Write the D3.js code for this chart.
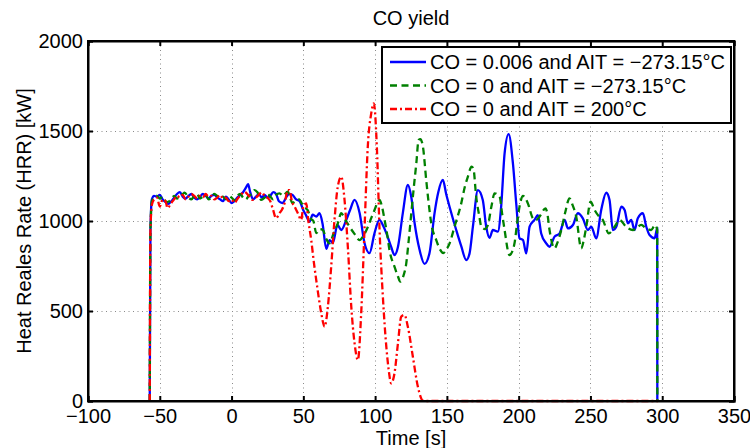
<!DOCTYPE html>
<html>
<head>
<meta charset="utf-8">
<script src="https://cdn.jsdelivr.net/npm/d3@7"></script>
<style>
    body { margin: 0; background: #fff; }
    text { font-family: "Liberation Sans", Arial, sans-serif; }
</style>
</head>
<body>
<div id="chart"></div>
<script>
// Axis ticks
let xTicks = [-100, -50, 0, 50, 100, 150, 200, 250, 300, 350];
let yTicks = [0, 500, 1000, 1500, 2000];

// CO = 0.006 and AIT = -273.15 C (blue, solid)
let blueTime = [-57, -56.5, -55.5, -54, -52, -50, -48, -46, -44, -42, -40, -38, -36, -34, -32, -30, -28, -26, -24, -22,
    -20, -18, -16, -14, -12, -10, -8, -6, -4, -2, 0, 2, 4, 6, 8, 10, 11.5, 13, 15, 17, 19, 21, 23, 25, 27, 29, 31, 33,
    35.5, 38, 40, 42.5, 45, 47.4, 50, 52, 54.3, 56.5, 59, 61.3, 63.4, 66, 68.3, 70.5, 73.8, 76.4, 79.9, 82.5, 85.7,
    89.2, 92.6, 96.1, 99.6, 103, 105.5, 107.8, 111.2, 113.5, 115.9, 119.3, 122.8, 125.2, 127.5, 131, 134.4, 137.9,
    141.4, 144, 147.2, 149.5, 151.9, 156.5, 160, 163.5, 165.8, 168.1, 171.6, 175, 177.4, 179.7, 182, 185.5, 187.8,
    190.2, 193, 196, 198.3, 200.6, 203, 205.3, 207.6, 211, 213.4, 215.7, 219.2, 221.5, 225, 228.5, 232, 234.3, 237.8,
    241.2, 244.7, 248.2, 250.6, 254, 257.5, 261, 263.3, 265.6, 268, 271.5, 273.8, 276.1, 278.4, 280.7, 283, 286.5,
    288.9, 291.2, 294.7, 296.5, 296.6];
let blueHRR = [0, 950, 1120, 1140, 1135, 1145, 1120, 1105, 1095, 1110, 1130, 1150, 1160, 1135, 1125, 1140, 1150, 1130, 1120, 1135,
    1150, 1140, 1125, 1140, 1145, 1130, 1120, 1110, 1135, 1120, 1100, 1110, 1130, 1145, 1160, 1185, 1205, 1160, 1120, 1135, 1150, 1130, 1145, 1130, 1140, 1160, 1150, 1110,
    1100, 1130, 1150, 1144, 1120, 1110, 1060, 1030, 995, 1035, 1025, 1044, 985, 845, 894, 878, 978, 950, 1006, 1060, 1117,
    1044, 878, 822, 933, 1006, 975, 933, 856, 811, 856, 1044, 1200, 1133, 989, 839, 762, 822,
    1044, 1160, 1228, 1150, 1078, 950, 860, 783, 820, 967, 1172, 1117, 968, 906, 950, 941, 1080,
    1376, 1483, 1320, 1098, 904, 894, 820, 968, 1006, 1033, 931, 876, 857, 913, 931, 1006, 959, 978,
    1043, 1015, 950, 968, 904, 1061, 1157, 1117, 950, 968, 1080, 1061, 987, 1006, 950, 1015, 1043,
    968, 922, 904, 959, 0];

// CO = 0 and AIT = -273.15 C (green, dashed)
let greenTime = [-57, -56.5, -55.5, -54, -52, -50, -48, -46, -45, -42, -40, -38, -36, -34, -32.7, -30, -28, -26, -24, -22,
    -20, -18, -16, -14, -12, -10, -8, -6, -4, -2, 0, 2, 4, 6, 8, 10, 12, 14, 16, 18, 20.7, 23, 25, 27, 29, 31, 33.4, 36,
    39, 42.5, 44, 47, 50, 53, 55.5, 57, 59, 61.5, 63.6, 66, 68.3, 71, 74, 76.4, 79, 82.2, 85.5, 89.2, 92, 95, 97.5,
    99.6, 101.5, 103, 104.8, 106.6, 108.5, 110, 113.5, 116, 117.5, 119.5, 121.7, 123.5, 125.2, 127, 128.7, 130.3,
    131.5, 133.3, 135.6, 137.3, 139.1, 142.6, 145, 147.5, 149.5, 151.9, 155.3, 160, 162.5, 164.6, 167.2, 168.5,
    170.4, 172.5, 174, 176.5, 178.6, 181, 183.2, 186.7, 188.5, 190.2, 193.6, 195.5, 197.1, 198.8, 200.6, 203, 206.4,
    209.9, 212, 214.5, 218.7, 220, 221.5, 225, 227, 229.7, 232.5, 235.4, 237.5, 240.1, 243.6, 245.5, 247.1, 250.1,
    252.9, 255.5, 258.6, 262.8, 266.8, 270.3, 274.9, 279.6, 282.5, 285.4, 288.9, 292.3, 295.1, 296.5, 296.6];
let greenHRR = [0, 950, 1110, 1130, 1140, 1125, 1135, 1110, 1105, 1120, 1140, 1125, 1135, 1150, 1158, 1130, 1120, 1140, 1150, 1125,
    1135, 1145, 1120, 1130, 1150, 1140, 1125, 1135, 1120, 1140, 1130, 1115, 1140, 1150, 1130, 1120, 1140, 1150, 1172, 1160, 1117, 1130, 1150, 1135, 1120, 1145, 1154, 1140,
    1163, 1100, 1107, 1120, 1080, 1060, 1010, 1000, 933, 955, 950, 900, 876, 930, 987, 1043, 1010, 968, 930, 894, 920, 968, 1020,
    1061, 1100, 1117, 1080, 1006, 920, 839, 746, 690, 663, 690, 765, 900, 1043, 1190, 1320, 1450,
    1455, 1413, 1228, 1100, 987, 894, 845, 822, 840, 876, 968, 1098, 1190, 1246, 1302, 1290,
    1135, 1030, 968, 955, 978, 1080, 1154, 1135, 1040, 950, 811, 830, 876, 980, 1080, 1139, 1098,
    1015, 1005, 1024, 1070, 1040, 950, 848, 880, 950, 1050, 1126, 1090, 1024, 848, 900, 968, 1107,
    1061, 1030, 1006, 931, 968, 1006, 968, 950, 965, 978, 959, 950, 978, 950, 0];

// CO = 0 and AIT = 200 C (red, dash-dot)
let redTime = [-57, -56.5, -55.5, -54, -52, -50, -48, -46, -44.6, -42, -40, -38, -36, -34, -32, -30, -28, -26, -24, -22,
    -20, -18, -16, -14, -12, -10, -8, -6, -4, -2, 0, 2, 4.4, 7, 9, 12, 14.6, 17, 19, 21, 23, 25, 27, 29, 31, 33.4, 35,
    37, 39.2, 40.4, 42, 43.9, 46.2, 48.5, 50, 52, 53.5, 55.5, 57.5, 59, 61, 62.5, 64.8, 67.1, 69.4, 71.7, 74, 76.4,
    78.7, 81, 83.4, 85.7, 88, 90.3, 92.6, 94.9, 97.3, 99.1, 101.2, 103.1, 105.4, 107.8, 109.5, 111.2, 113.5, 115.9,
    118.2, 120.5, 122.8, 126.3, 129.8, 133.3, 135, 297];
let redHRR = [0, 950, 1090, 1120, 1130, 1080, 1120, 1110, 1072, 1100, 1120, 1140, 1130, 1145, 1120, 1135, 1150, 1140, 1125, 1140,
    1130, 1150, 1135, 1140, 1120, 1130, 1145, 1125, 1130, 1110, 1120, 1100, 1126, 1150, 1163, 1140, 1117, 1130, 1145, 1160, 1140, 1130, 1110, 1060, 1015, 1044, 1061,
    1100, 1172, 1172, 1110, 1080, 1043, 1006, 1080, 1098, 1000, 894, 760, 672, 560, 487, 413, 524, 746, 1006, 1191, 1246,
    1117, 857, 524, 320, 228, 487, 950, 1413, 1598, 1654, 1413, 950, 580, 302, 170, 98, 154, 320,
    469, 478, 413, 246, 79, 2, 0, 0];

let seriesNames = [
    "CO = 0.006 and AIT = \u2212273.15\u00b0C",
    "CO = 0 and AIT = \u2212273.15\u00b0C",
    "CO = 0 and AIT = 200\u00b0C"
];

function drawChart() {
    let width = 750, height = 448;
    let margin = {top: 41, right: 16, bottom: 47, left: 88};
    let plotW = width - margin.left - margin.right,
        plotH = height - margin.top - margin.bottom;

    let svg = d3.select("#chart")
        .append("svg")
        .attr("width", width)
        .attr("height", height);

    let x = d3.scaleLinear().domain([-100, 350]).range([margin.left, margin.left + plotW]);
    let y = d3.scaleLinear().domain([0, 2000]).range([margin.top + plotH, margin.top]);

    // dotted grid
    let grid = svg.append("g")
        .attr("stroke", "#8a8a8a")
        .attr("stroke-width", 1)
        .attr("stroke-dasharray", "1,3.5");
    grid.selectAll(".vgrid")
        .data(xTicks.slice(1, -1))
        .enter().append("line")
        .attr("x1", d => Math.round(x(d)) + 0.5)
        .attr("x2", d => Math.round(x(d)) + 0.5)
        .attr("y1", y(2000))
        .attr("y2", y(0));
    grid.selectAll(".hgrid")
        .data(yTicks.slice(1, -1))
        .enter().append("line")
        .attr("y1", d => Math.round(y(d)) + 0.5)
        .attr("y2", d => Math.round(y(d)) + 0.5)
        .attr("x1", x(-100))
        .attr("x2", x(350));

    // series
    let series = [
        {time: blueTime, hrr: blueHRR, color: "#0000ff", dash: null},
        {time: greenTime, hrr: greenHRR, color: "#008000", dash: "7,4.5"},
        {time: redTime, hrr: redHRR, color: "#ff0000", dash: "7,3,2,3"}
    ];
    let line = d3.line()
        .x(d => x(d[0]))
        .y(d => y(d[1]))
        .curve(d3.curveMonotoneX);

    let plot = svg.append("g");
    series.forEach(function (s) {
        plot.append("path")
            .datum(s.time.map((t, i) => [t, s.hrr[i]]))
            .attr("fill", "none")
            .attr("stroke", s.color)
            .attr("stroke-width", 2.3)
            .attr("stroke-dasharray", s.dash)
            .attr("d", line);
    });

    // axes (ticks inward on all four sides)
    let fontSize = "20px";
    let fmt = d3.format("d");
    svg.append("g")
        .attr("transform", "translate(0," + y(0) + ")")
        .call(d3.axisBottom(x).tickValues(xTicks).tickFormat(fmt).tickSize(-5).tickPadding(8));
    svg.append("g")
        .attr("transform", "translate(0," + y(2000) + ")")
        .call(d3.axisTop(x).tickValues(xTicks).tickSize(-5).tickFormat(""));
    svg.append("g")
        .attr("transform", "translate(" + x(-100) + ",0)")
        .call(d3.axisLeft(y).tickValues(yTicks).tickFormat(fmt).tickSize(-5).tickPadding(5));
    svg.append("g")
        .attr("transform", "translate(" + x(350) + ",0)")
        .call(d3.axisRight(y).tickValues(yTicks).tickSize(-5).tickFormat(""));

    svg.selectAll(".domain").attr("stroke", "#000").attr("stroke-width", 2);
    svg.selectAll(".tick line").attr("stroke", "#000").attr("stroke-width", 2);
    svg.selectAll(".tick text")
        .attr("fill", "#000")
        .style("font-size", fontSize)
        .style("font-family", "'Liberation Sans', Arial, sans-serif");

    // box outline
    svg.append("rect")
        .attr("x", x(-100))
        .attr("y", y(2000))
        .attr("width", x(350) - x(-100))
        .attr("height", y(0) - y(2000))
        .attr("fill", "none")
        .attr("stroke", "#000")
        .attr("stroke-width", 2);

    // title and labels
    svg.append("text")
        .attr("x", (x(-100) + x(350)) / 2)
        .attr("y", 25)
        .attr("text-anchor", "middle")
        .style("font-size", fontSize)
        .text("CO yield");
    svg.append("text")
        .attr("x", (x(-100) + x(350)) / 2)
        .attr("y", 445)
        .attr("text-anchor", "middle")
        .style("font-size", fontSize)
        .text("Time [s]");
    svg.append("text")
        .attr("transform", "translate(31," + (y(0) + y(2000)) / 2 + ") rotate(-90)")
        .attr("text-anchor", "middle")
        .style("font-size", fontSize)
        .text("Heat Reales Rate (HRR) [kW]");

    // legend
    let legend = svg.append("g").attr("transform", "translate(382,47)");
    legend.append("rect")
        .attr("width", 349)
        .attr("height", 76)
        .attr("fill", "#fff")
        .attr("stroke", "#000")
        .attr("stroke-width", 2);
    series.forEach(function (s, i) {
        let cy = 15 + i * 23.5;
        legend.append("line")
            .attr("x1", 8).attr("x2", 44)
            .attr("y1", cy).attr("y2", cy)
            .attr("stroke", s.color)
            .attr("stroke-width", 2.3)
            .attr("stroke-dasharray", s.dash);
        legend.append("text")
            .attr("x", 48)
            .attr("y", cy)
            .attr("dy", "0.35em")
            .style("font-size", fontSize)
            .text(seriesNames[i]);
    });
}

drawChart();
</script>
</body>
</html>
